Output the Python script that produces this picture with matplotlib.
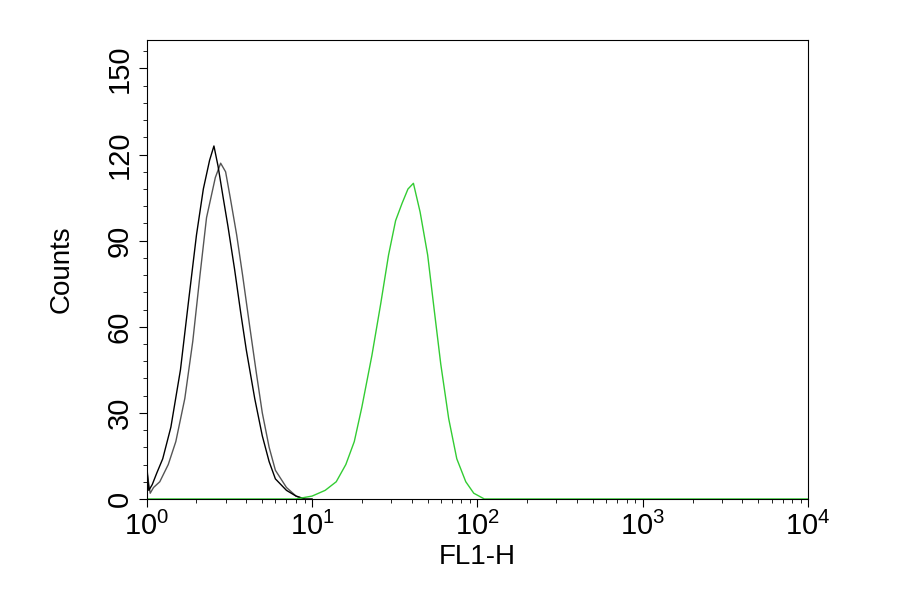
import matplotlib.pyplot as plt
import numpy as np

plt.rcParams['font.family'] = ['Liberation Sans', 'DejaVu Sans']

# black histogram (isotype control)
black_x = [1.0, 1.03, 1.08, 1.15, 1.25, 1.4, 1.6, 1.8, 2.0, 2.2, 2.4, 2.55, 2.7, 2.9, 3.1, 3.4, 3.7, 4.0, 4.5, 5.0, 5.5, 6.0, 7.0, 8.0, 9.0, 10.0]
black_y = [12, 3, 5, 9, 14, 25, 45, 70, 92, 108, 118, 123, 116, 105, 95, 80, 65, 52, 35, 22, 13, 7, 3, 1, 0, 0]
# gray histogram (unstained)
gray_x = [1.0, 1.05, 1.1, 1.2, 1.35, 1.5, 1.7, 1.9, 2.1, 2.3, 2.6, 2.8, 3.0, 3.2, 3.5, 3.8, 4.2, 4.6, 5.0, 5.5, 6.0, 7.0, 8.0, 9.0]
gray_y = [10, 2, 4, 6, 12, 20, 35, 55, 78, 98, 112, 117, 114, 105, 92, 78, 60, 44, 30, 18, 10, 4, 1, 0]
# green histogram (antibody)
green_x = [1.0, 8.0, 10.0, 12.0, 14.0, 16.0, 18.0, 20.0, 23.0, 26.0, 29.0, 32.0, 35.0, 38.0, 41.0, 45.0, 50.0, 55.0, 60.0, 67.0, 75.0, 85.0, 95.0, 110.0, 10000.0]
green_y = [0, 0, 1, 3, 6, 12, 20, 32, 50, 68, 85, 97, 103, 108, 110, 100, 85, 65, 47, 28, 14, 6, 2, 0, 0]

fig, ax = plt.subplots(figsize=(9, 5.94), dpi=100)
fig.subplots_adjust(left=0.163, right=0.898, top=0.933, bottom=0.16)

ax.plot(gray_x, gray_y, color='#555555', lw=1)
ax.plot(black_x, black_y, color='black', lw=1)
ax.plot(green_x, green_y, color='#33cc33', lw=1)

ax.set_xscale('log')
ax.set_xlim(1, 1e4)
ax.set_ylim(0, 160)
ax.set_yticks([0, 30, 60, 90, 120, 150])
ax.set_yticks(np.arange(0, 160, 6), minor=True)
ax.tick_params(axis='both', labelsize=21, direction='out', length=6)
ax.tick_params(axis='y', which='minor', length=3)
ax.tick_params(axis='x', which='minor', length=3)
for lab in ax.get_yticklabels():
    lab.set_rotation(90)
    lab.set_va('center')
ax.set_xlabel('FL1-H', fontsize=20, labelpad=2)
ax.set_ylabel('Counts', fontsize=20, labelpad=22)
fig.savefig('out.png')
